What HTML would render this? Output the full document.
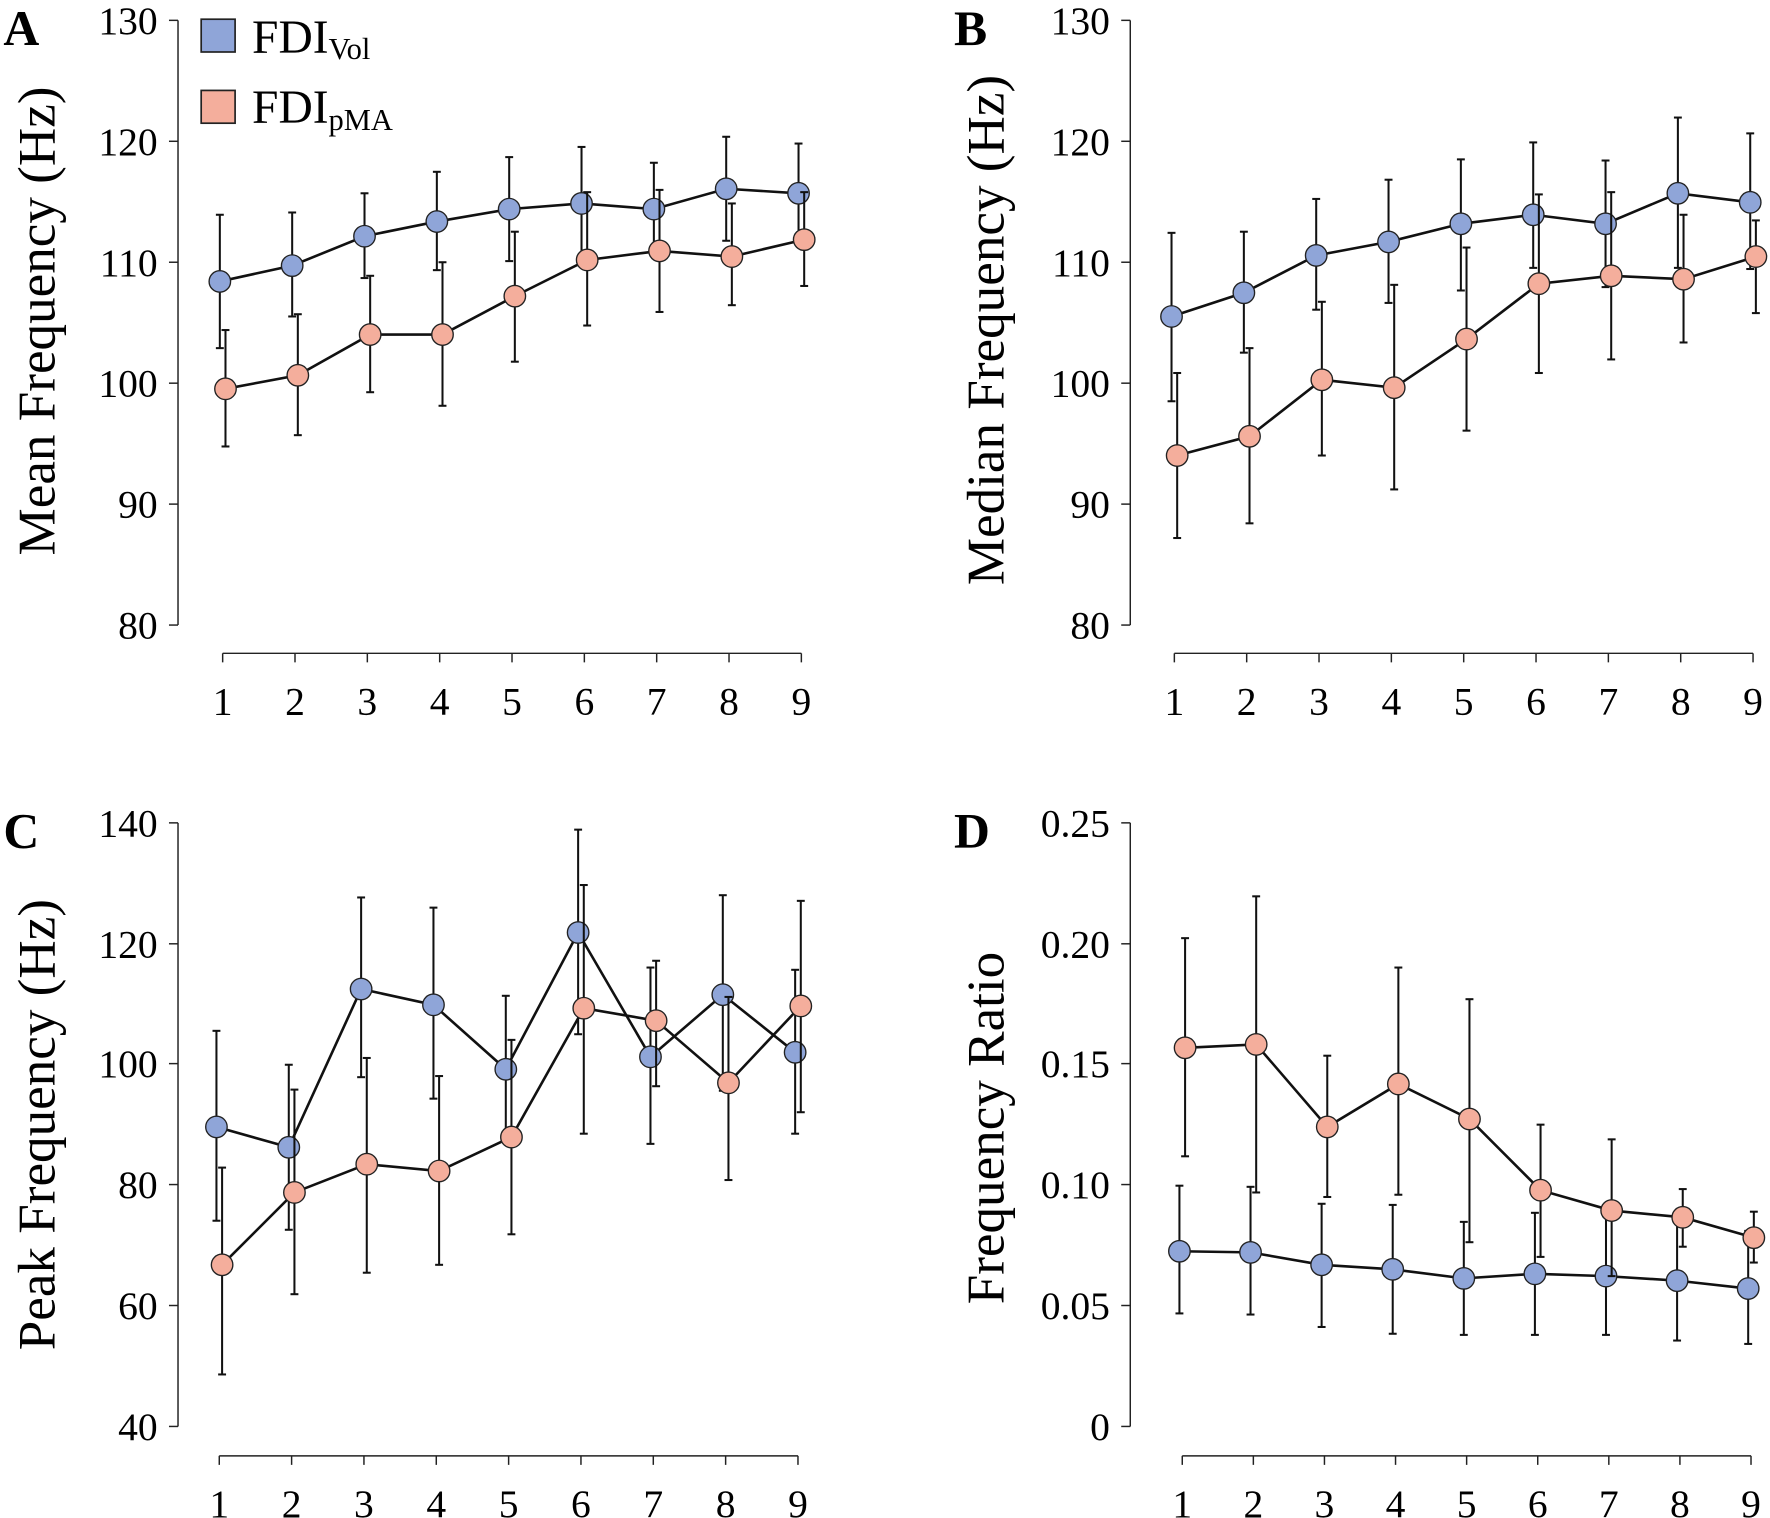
<!DOCTYPE html>
<html><head><meta charset="utf-8"><style>html,body{margin:0;padding:0;background:#fff}svg{display:block}</style></head>
<body>
<svg id="s" width="1770" height="1518" viewBox="0 0 1566 1343" preserveAspectRatio="none" xmlns="http://www.w3.org/2000/svg" font-family="Liberation Serif, serif">
<g font-weight="bold" font-size="44" font-family="Liberation Serif, serif">
<text x="3" y="40">A</text><text x="844" y="40">B</text><text x="3" y="750">C</text><text x="844" y="750">D</text>
</g>
<rect x="178" y="17" width="30" height="29" fill="#8fa5d8" stroke="#222" stroke-width="1.5"/>
<text x="223" y="47" font-size="42">FDI<tspan font-size="27" dy="5">Vol</tspan></text>
<rect x="178" y="80" width="30" height="29" fill="#f4ae9c" stroke="#222" stroke-width="1.5"/>
<text x="223" y="109" font-size="42">FDI<tspan font-size="27" dy="6">pMA</tspan></text>
<g font-size="47" text-anchor="middle">
<text transform="translate(48,284) rotate(-90)">Mean Frequency (Hz)</text>
<text transform="translate(888,292) rotate(-90)">Median Frequency (Hz)</text>
<text transform="translate(48,995) rotate(-90)">Peak Frequency (Hz)</text>
<text transform="translate(888,998) rotate(-90)">Frequency Ratio</text>
</g>
<g id="g"></g>
</svg>
<script>
var g=document.getElementById('g'),h='';
var B='#8fa5d8',O='#f4ae9c';
function panel(ax,yt,ylab,x0,dx,xy,blue,orange){
 h+='<line x1="'+ax+'" y1="'+yt[0]+'" x2="'+ax+'" y2="'+yt[yt.length-1]+'" stroke="#222" stroke-width="1.3"/>';
 yt.forEach(function(y,i){h+='<line x1="'+(ax-8)+'" y1="'+y+'" x2="'+ax+'" y2="'+y+'" stroke="#222" stroke-width="1.3"/>';
  h+='<text x="'+(ax-18)+'" y="'+(y+12)+'" text-anchor="end" font-size="35">'+ylab[i]+'</text>';});
 h+='<line x1="'+x0+'" y1="'+xy+'" x2="'+(x0+8*dx)+'" y2="'+xy+'" stroke="#222" stroke-width="1.3"/>';
 for(var i=0;i<9;i++){var x=x0+i*dx;h+='<line x1="'+x+'" y1="'+xy+'" x2="'+x+'" y2="'+(xy+8)+'" stroke="#222" stroke-width="1.3"/>';
  h+='<text x="'+x+'" y="'+(xy+54)+'" text-anchor="middle" font-size="35">'+(i+1)+'</text>';}
 function ser(d,c,off){var p='';d.forEach(function(v,i){var x=x0+i*dx+off;
   h+='<line x1="'+x+'" y1="'+v[1]+'" x2="'+x+'" y2="'+v[2]+'" stroke="#111" stroke-width="1.8"/>';
   h+='<line x1="'+(x-3.5)+'" y1="'+v[1]+'" x2="'+(x+3.5)+'" y2="'+v[1]+'" stroke="#111" stroke-width="1.8"/>';
   h+='<line x1="'+(x-3.5)+'" y1="'+v[2]+'" x2="'+(x+3.5)+'" y2="'+v[2]+'" stroke="#111" stroke-width="1.8"/>';
   p+=(i?'L':'M')+x+' '+v[0];});
  h+='<path d="'+p+'" fill="none" stroke="#111" stroke-width="2.3"/>';
  d.forEach(function(v,i){h+='<circle cx="'+(x0+i*dx+off)+'" cy="'+v[0]+'" r="9.5" fill="'+c+'" stroke="#222" stroke-width="1.2"/>';});}
 ser(blue,B,-2.5);ser(orange,O,2.5);
}
panel(157.5,[18,125,232,339,446,553],[130,120,110,100,90,80],197,64,578,
[[249,190,308],[235,188,280],[209,171,246],[196,152,239],[185,139,231],[180,130,229],[185,144,224],[167,121,213],[171,127,215]],
[[344,292,395],[332,278,385],[296,244,347],[296,232,359],[262,205,320],[230,170,288],[222,168,276],[227,180,270],[212,170,253]]);
panel(1000,[18,125,232,339,446,553],[130,120,110,100,90,80],1039,64,578,
[[280,206,355],[259,205,312],[226,176,274],[214,159,268],[198,141,257],[190,126,237],[198,142,254],[171,104,237],[179,118,238]],
[[403,330,476],[386,308,463],[336,267,403],[343,252,433],[300,219,381],[251,172,330],[244,170,318],[247,190,303],[227,195,277]]);
panel(157.5,[728,835,941,1048,1155,1262],[140,120,100,80,60,40],194,64,1288,
[[997,912,1080],[1015,942,1088],[875,794,953],[889,803,972],[946,881,1005],[825,734,915],[935,856,1012],[880,792,965],[931,858,1003]],
[[1119,1033,1216],[1055,964,1145],[1030,936,1126],[1036,952,1119],[1006,920,1092],[892,783,1003],[903,850,961],[958,882,1044],[890,797,984]]);
panel(1000,[728,835,941,1048,1155,1262],['0.25','0.20','0.15','0.10','0.05','0'],1046,62.9,1288,
[[1107,1049,1162],[1108,1050,1163],[1119,1065,1174],[1123,1066,1180],[1131,1081,1181],[1127,1073,1181],[1129,1076,1181],[1133,1081,1186],[1140,1089,1189]],
[[927,830,1023],[924,793,1055],[997,934,1059],[959,856,1057],[990,884,1099],[1053,995,1112],[1071,1008,1129],[1077,1052,1103],[1095,1072,1117]]);
g.innerHTML=h;
</script>
</body></html>
